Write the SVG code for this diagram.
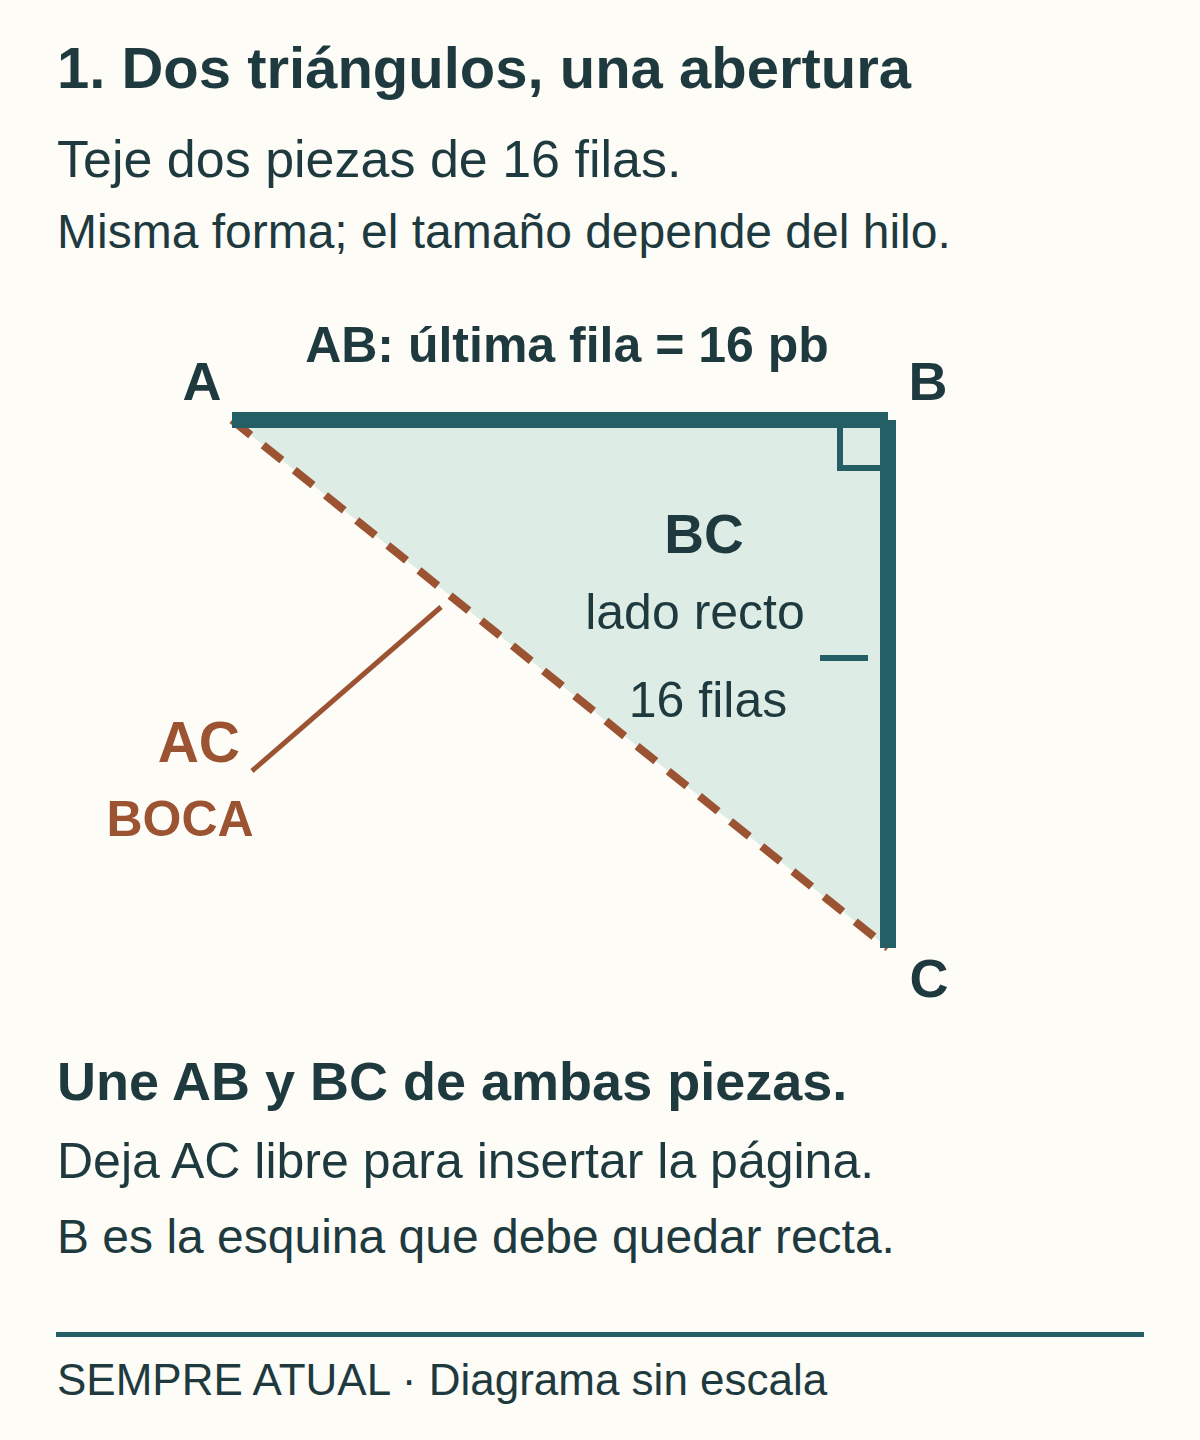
<svg xmlns="http://www.w3.org/2000/svg" width="1200" height="1440" viewBox="0 0 1200 1440">
<style>
text{font-family:"Liberation Sans",Arial,sans-serif;fill:#1e3a3e}
.b{font-weight:bold}
.br{fill:#9b5331}
.teal{stroke:#245f66;fill:none}
</style>
<rect width="1200" height="1440" fill="#fdfcf7"/>
<g id="header">
<text x="57" y="88" class="b" font-size="58">1. Dos triángulos, una abertura</text>
<text x="57" y="177" font-size="52">Teje dos piezas de 16 filas.</text>
<text x="57" y="248" font-size="48">Misma forma; el tamaño depende del hilo.</text>
</g>
<g id="triangle">
<polygon points="232,420 888,420 888,948" fill="#deece6"/>
</g>
<g id="connectors">
<line id="AC" x1="232" y1="420" x2="888" y2="948" stroke="#9b5331" stroke-width="8" stroke-dasharray="24 16"/>
<line id="leader" x1="441" y1="607" x2="252" y2="771" stroke="#9b5331" stroke-width="5"/>
<line id="AB" x1="232" y1="420" x2="888" y2="420" class="teal" stroke-width="16"/>
<line id="BC" x1="888" y1="420" x2="888" y2="948" class="teal" stroke-width="16"/>
<path id="right-angle" d="M840,428 V468 H880" class="teal" stroke-width="6"/>
<line id="tick" x1="820" y1="658" x2="868" y2="658" class="teal" stroke-width="6"/>
</g>
<g id="labels">
<text x="567" y="362" class="b" font-size="50" text-anchor="middle">AB: última fila = 16 pb</text>
<text x="202" y="400" class="b" font-size="54" text-anchor="middle">A</text>
<text x="928" y="400" class="b" font-size="54" text-anchor="middle">B</text>
<text x="929" y="997" class="b" font-size="54" text-anchor="middle">C</text>
<text x="704" y="553" class="b" font-size="55" text-anchor="middle">BC</text>
<text x="695" y="629" font-size="50" text-anchor="middle">lado recto</text>
<text x="708" y="717" font-size="50" text-anchor="middle">16 filas</text>
<text x="240" y="762" class="b br" font-size="57" text-anchor="end">AC</text>
<text x="180" y="836" class="b br" font-size="50" text-anchor="middle">BOCA</text>
</g>
<g id="instructions">
<text x="57" y="1100" class="b" font-size="54">Une AB y BC de ambas piezas.</text>
<text x="57" y="1178" font-size="50">Deja AC libre para insertar la página.</text>
<text x="57" y="1253" font-size="48">B es la esquina que debe quedar recta.</text>
</g>
<g id="footer">
<line x1="56" y1="1334.5" x2="1144" y2="1334.5" stroke="#245f66" stroke-width="5"/>
<text x="57" y="1395" font-size="44">SEMPRE ATUAL · Diagrama sin escala</text>
</g>
</svg>
